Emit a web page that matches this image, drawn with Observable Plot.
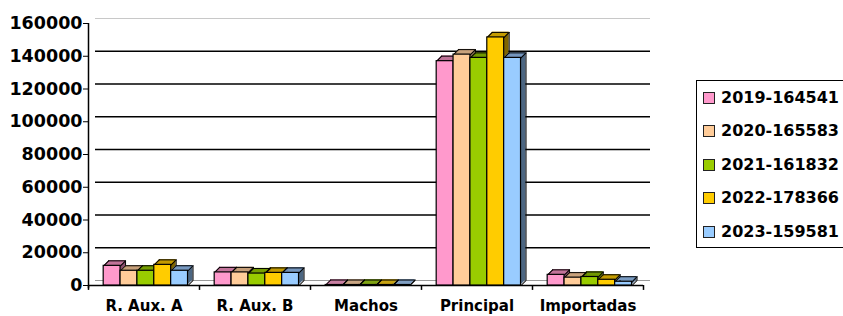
<!DOCTYPE html>
<html><head><meta charset="utf-8">
<script src="https://cdn.jsdelivr.net/npm/d3@7"></script>
<script src="https://cdn.jsdelivr.net/npm/@observablehq/plot@0.6"></script>
<style>
body{margin:0;background:#fff;overflow:hidden;font-family:"DejaVu Sans",sans-serif;}
#wrap{position:relative;width:843px;height:316px;overflow:hidden;}
#legend{position:absolute;left:696px;top:80px;width:170px;height:168px;border:1px solid #000;box-sizing:border-box;background:#fff;}
.row{position:relative;height:33.4px;}
.sw{position:absolute;left:6px;top:11px;width:10px;height:10px;border:1px solid #222;}
.lb{position:absolute;left:24px;top:0;line-height:33.4px;font-weight:bold;font-size:16px;color:#000;white-space:nowrap;}
</style></head>
<body><div id="wrap"><div id="chart"></div><div id="legend"></div></div>
<script>
const cats = ["R. Aux. A", "R. Aux. B", "Machos", "Principal", "Importadas"];
const series = ["2019-164541", "2020-165583", "2021-161832", "2022-178366", "2023-159581"];
const v2019 = [12000, 8000, 300, 137000, 6500];
const v2020 = [9000, 8000, 300, 141000, 4800];
const v2021 = [9000, 7300, 300, 139000, 5200];
const v2022 = [12600, 7700, 300, 151500, 3500];
const v2023 = [9000, 7700, 300, 139000, 2300];
const yTicks = [0, 20000, 40000, 60000, 80000, 100000, 120000, 140000, 160000];

const colors = ["#FF99CC", "#FFCC99", "#99CC00", "#FFCC00", "#99CCFF"];
const topColors = ["#c8789f", "#c9a27c", "#78a000", "#c9a000", "#7a9cc4"];
const sideColors = ["#8c4f6e", "#8c7055", "#4f6a00", "#806600", "#4d6682"];
const values = [v2019, v2020, v2021, v2022, v2023];
const data = series.flatMap((s, i) => cats.map((c, j) => ({cat: c, series: s, i, v: values[i][j]})));
const xDomain = [-0.9, 5.68];
const depth = 5;
const ink = "#000";

const marks = [
  Plot.ruleY([yTicks[yTicks.length - 1]], {dx: 7, dy: -5, stroke: "#c8c8c8"}),
  Plot.ruleY(yTicks.slice(1, -1), {dx: 7, dy: -5, stroke: ink, strokeWidth: 1.5}),
  Plot.ruleY([0], {dx: 7, dy: -5, stroke: "#999"}),
  Plot.ruleY([0], {stroke: ink, strokeWidth: 1.5}),
];
// side faces (full shifted copies)
for (let k = depth; k >= 1; k--) {
  marks.push(Plot.rect(data, {
    fx: "cat", x1: "i", x2: d => d.i + 1, y1: 0, y2: "v",
    fill: d => sideColors[d.i], dx: k, dy: -k
  }));
}
// back right edge
marks.push(Plot.ruleX(data, {fx: "cat", x: d => d.i + 1, y1: 0, y2: "v", dx: depth, dy: -depth, stroke: ink, strokeWidth: 1}));
// top faces (1px strips)
for (let k = depth; k >= 1; k--) {
  marks.push(Plot.rect(data, {
    fx: "cat", x1: "i", x2: d => d.i + 1, y1: "v", y2: "v", insetTop: -1.2,
    fill: d => topColors[d.i], dx: k, dy: -k + 1
  }));
}
marks.push(
  Plot.ruleY(data, {fx: "cat", y: "v", x1: "i", x2: d => d.i + 1, dx: depth, dy: -depth, stroke: ink, strokeWidth: 1}),
  Plot.vector(data, {fx: "cat", x: "i", y: "v", length: depth * Math.SQRT2, rotate: 45, anchor: "start", r: 0, stroke: ink, strokeWidth: 1}),
  Plot.vector(data, {fx: "cat", x: d => d.i + 1, y: "v", length: depth * Math.SQRT2, rotate: 45, anchor: "start", r: 0, stroke: ink, strokeWidth: 1}),
  Plot.vector(data, {fx: "cat", x: d => d.i + 1, y: 0, length: depth * Math.SQRT2, rotate: 45, anchor: "start", r: 0, stroke: ink, strokeWidth: 1}),
  Plot.rect(data, {fx: "cat", x1: "i", x2: d => d.i + 1, y1: 0, y2: "v",
    fill: d => colors[d.i], stroke: ink, strokeWidth: 1.2}),
  Plot.ruleX([cats[0]], {fx: d => d, x: xDomain[0], y1: -2000, y2: yTicks[yTicks.length - 1], stroke: ink, strokeWidth: 1.5}),
  Plot.ruleX(cats, {fx: d => d, x: xDomain[0], y1: 0, y2: -3000, stroke: ink, strokeWidth: 1.5}),
  Plot.ruleX([cats[cats.length - 1]], {fx: d => d, x: xDomain[1], y1: 0, y2: -3000, stroke: ink, strokeWidth: 1.5}),
  Plot.axisY({ticks: yTicks, tickFormat: d3.format("d"), tickSize: 5, tickPadding: 1,
    fontSize: 17.5, fontWeight: "bold", label: null}),
  Plot.axisFx({anchor: "bottom", tickSize: 0, tickPadding: 15, fontSize: 15, fontWeight: "bold", label: null})
);

const chart = Plot.plot({
  width: 843, height: 316,
  marginLeft: 86, marginRight: 198, marginTop: 23, marginBottom: 31,
  style: {fontFamily: "DejaVu Sans", color: "#000", background: "#fff"},
  fx: {domain: cats, padding: 0},
  x: {domain: xDomain, axis: null},
  y: {domain: [0, 160000]},
  color: {type: "identity"},
  marks
});
document.getElementById("chart").appendChild(chart);

const legend = document.getElementById("legend");
series.forEach((s, i) => {
  const row = document.createElement("div"); row.className = "row";
  const sw = document.createElement("div"); sw.className = "sw"; sw.style.background = colors[i];
  const lb = document.createElement("div"); lb.className = "lb"; lb.textContent = s;
  row.appendChild(sw); row.appendChild(lb); legend.appendChild(row);
});
</script></body></html>
